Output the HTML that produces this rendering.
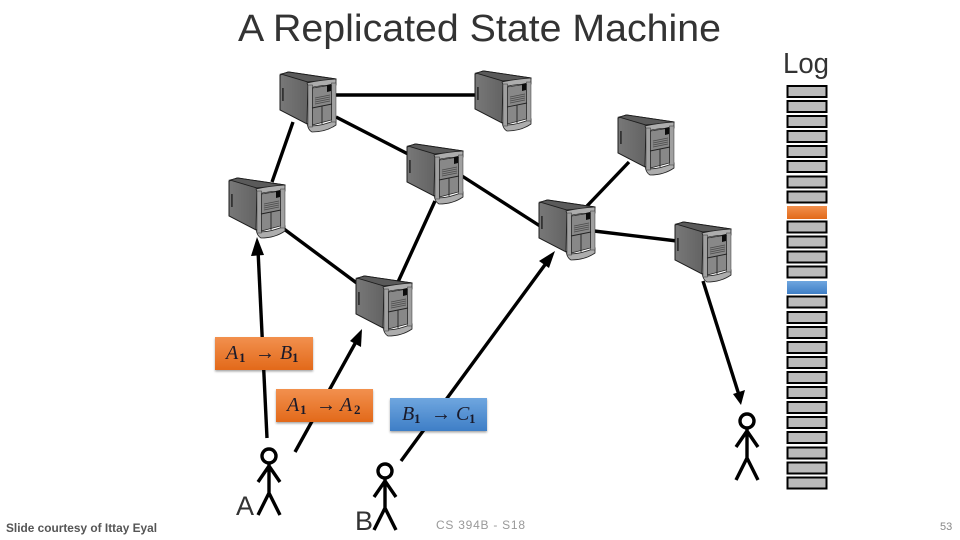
<!DOCTYPE html>
<html>
<head>
<meta charset="utf-8">
<style>
html,body{margin:0;padding:0;background:#fff;}
svg{display:block;}
</style>
</head>
<body>
<svg xmlns="http://www.w3.org/2000/svg" width="960" height="540" viewBox="0 0 960 540">
<defs>
  <linearGradient id="or" x1="0" y1="0" x2="0" y2="1"><stop offset="0" stop-color="#f2904e"/><stop offset="1" stop-color="#e2691a"/></linearGradient>
  <linearGradient id="bl" x1="0" y1="0" x2="0" y2="1"><stop offset="0" stop-color="#6fa6df"/><stop offset="1" stop-color="#3e7ec6"/></linearGradient>
  <linearGradient id="side" x1="0" y1="0" x2="1" y2="0"><stop offset="0" stop-color="#787878"/><stop offset="1" stop-color="#4e4e4e"/></linearGradient>
  <filter id="sh" x="-5%" y="-10%" width="110%" height="125%"><feDropShadow dx="0" dy="1.5" stdDeviation="1" flood-color="#000" flood-opacity="0.35"/></filter>
  <g id="srv">
    <polygon points="0,3 8,0 56,7 55,11 28,11 27,52 0,38" fill="url(#side)" stroke="#1c1c1c" stroke-width="1"/>
    <polygon points="1,2 9,0 56,7 50,8 28,10" fill="#5a5a5a" stroke="#1c1c1c" stroke-width="0.9"/>
    <rect x="2" y="16" width="1.8" height="13" fill="#333"/>
    <path d="M27,11 Q40,8 56,7 L56,13 Q40,13 29,16 Z" fill="#adadad" stroke="#222" stroke-width="0.8"/>
    <path d="M27,51 Q28,58 32,60 Q46,60 56,53 L56,48 Q42,54 31,54 Z" fill="#adadad" stroke="#222" stroke-width="0.8"/>
    <rect x="28" y="13" width="4.5" height="42" fill="#a0a0a0" stroke="#333" stroke-width="0.5"/>
    <rect x="51.500" y="11" width="4.5" height="39" fill="#a0a0a0" stroke="#333" stroke-width="0.5"/>
    <polygon points="32.500,16 51.500,13 51.500,48 32.500,53" fill="#888" stroke="#222" stroke-width="0.7"/>
    <polygon points="47,13 51,12 51,19 47,20" fill="#0c0c0c"/>
    <path d="M35,26 L50,23 M35,28 L50,25 M35,30 L50,27 M35,32 L50,29" stroke="#4a4a4a" stroke-width="0.8"/>
    <path d="M32,36 L52,32 M42,34 L42,52" stroke="#222" stroke-width="0.9"/>
  </g>
  <g id="man" fill="none" stroke="#000" stroke-width="3.4">
    <circle cx="0" cy="0" r="7"/>
    <path d="M0,7 V37 M0,37 L-11,59 M0,37 L11,59 M0,10 L-11,26 M0,10 L11,26"/>
  </g>
</defs>

<text x="238" y="41" font-family="'Liberation Sans',sans-serif" font-size="38" fill="#333" textLength="483" lengthAdjust="spacingAndGlyphs">A Replicated State Machine</text>
<text x="783" y="73" font-family="'Liberation Sans',sans-serif" font-size="29" fill="#333" textLength="46" lengthAdjust="spacingAndGlyphs">Log</text>

<g fill="none" stroke="#000" stroke-width="3.4">
  <line x1="336" y1="95" x2="476" y2="95"/>
  <line x1="336" y1="117" x2="408" y2="154"/>
  <line x1="293" y1="122" x2="272" y2="182"/>
  <line x1="284" y1="229" x2="358" y2="284"/>
  <line x1="435" y1="201" x2="398" y2="282"/>
  <line x1="462" y1="176" x2="540" y2="226"/>
  <line x1="629" y1="162" x2="587" y2="206"/>
  <line x1="594" y1="231" x2="677" y2="241"/>
  <line x1="703" y1="281" x2="739" y2="395"/>
  <line x1="258" y1="250" x2="267" y2="438"/>
  <line x1="295" y1="452" x2="357" y2="340"/>
  <line x1="401" y1="461" x2="547" y2="262"/>
</g>
<g fill="#000">
  <polygon points="257,237 251,256 264,255"/>
  <polygon points="362,329 350,341 361,347"/>
  <polygon points="555,251 539,261 549,268"/>
  <polygon points="741,405 733,394 745,390"/>
</g>

<use href="#srv" x="280" y="72"/>
<use href="#srv" x="475" y="71"/>
<use href="#srv" x="407" y="144"/>
<use href="#srv" x="229" y="178"/>
<use href="#srv" x="356" y="276"/>
<use href="#srv" x="539" y="200"/>
<use href="#srv" x="618" y="115"/>
<use href="#srv" x="675" y="222"/>

<rect x="215" y="337" width="98" height="33" fill="url(#or)" filter="url(#sh)"/>
<rect x="276" y="389" width="97" height="33" fill="url(#or)" filter="url(#sh)"/>
<rect x="390" y="398" width="97" height="33" fill="url(#bl)" filter="url(#sh)"/>
<g font-family="'Liberation Serif',serif" font-size="20" fill="#1a1a2a">
  <text y="359"><tspan x="226" font-style="italic">A</tspan><tspan x="239" y="362" font-size="13" font-weight="bold">1</tspan><tspan x="255" y="359">→</tspan><tspan x="280" font-style="italic">B</tspan><tspan x="292" y="362" font-size="13" font-weight="bold">1</tspan></text>
  <text y="411"><tspan x="287" font-style="italic">A</tspan><tspan x="300" y="414" font-size="13" font-weight="bold">1</tspan><tspan x="316" y="411">→</tspan><tspan x="340" font-style="italic">A</tspan><tspan x="354" y="414" font-size="13" font-weight="bold">2</tspan></text>
  <text y="420"><tspan x="402" font-style="italic">B</tspan><tspan x="414" y="423" font-size="13" font-weight="bold">1</tspan><tspan x="431" y="420">→</tspan><tspan x="456" font-style="italic">C</tspan><tspan x="469" y="423" font-size="13" font-weight="bold">1</tspan></text>
</g>

<use href="#man" x="269" y="456"/>
<use href="#man" x="385" y="471"/>
<use href="#man" x="747" y="421"/>

<g font-family="'Liberation Sans',sans-serif" font-size="27" fill="#333">
  <text x="236" y="515">A</text>
  <text x="355" y="530">B</text>
</g>
<text x="6" y="532" font-family="'Liberation Sans',sans-serif" font-size="12" font-weight="bold" fill="#555" textLength="151" lengthAdjust="spacingAndGlyphs">Slide courtesy of Ittay Eyal</text>
<text x="436" y="529" font-family="'Liberation Sans',sans-serif" font-size="12" fill="#999" textLength="89" lengthAdjust="spacing">CS 394B - S18</text>
<text x="940" y="530" font-family="'Liberation Sans',sans-serif" font-size="11" fill="#888">53</text>

<g stroke="#000" stroke-width="2" fill="#bbb">
  <rect x="787.5" y="86" width="39" height="11"/>
  <rect x="787.5" y="101" width="39" height="11"/>
  <rect x="787.5" y="116" width="39" height="11"/>
  <rect x="787.5" y="131" width="39" height="11"/>
  <rect x="787.5" y="146" width="39" height="11"/>
  <rect x="787.5" y="161" width="39" height="11"/>
  <rect x="787.5" y="176.5" width="39" height="11"/>
  <rect x="787.5" y="191.5" width="39" height="11"/>
  <rect x="787.5" y="221.5" width="39" height="11"/>
  <rect x="787.5" y="236.5" width="39" height="11"/>
  <rect x="787.5" y="251.5" width="39" height="11"/>
  <rect x="787.5" y="266.5" width="39" height="11"/>
  <rect x="787.5" y="296.5" width="39" height="11"/>
  <rect x="787.5" y="312" width="39" height="11"/>
  <rect x="787.5" y="327" width="39" height="11"/>
  <rect x="787.5" y="342" width="39" height="11"/>
  <rect x="787.5" y="357" width="39" height="11"/>
  <rect x="787.5" y="372" width="39" height="11"/>
  <rect x="787.5" y="387" width="39" height="11"/>
  <rect x="787.5" y="402" width="39" height="11"/>
  <rect x="787.5" y="417" width="39" height="11"/>
  <rect x="787.5" y="432" width="39" height="11"/>
  <rect x="787.5" y="447.5" width="39" height="11"/>
  <rect x="787.5" y="462.5" width="39" height="11"/>
  <rect x="787.5" y="477.5" width="39" height="11"/>
</g>
<rect x="787" y="206" width="40" height="13" fill="url(#or)"/>
<rect x="787" y="281" width="40" height="13" fill="url(#bl)"/>
</svg>
</body>
</html>
